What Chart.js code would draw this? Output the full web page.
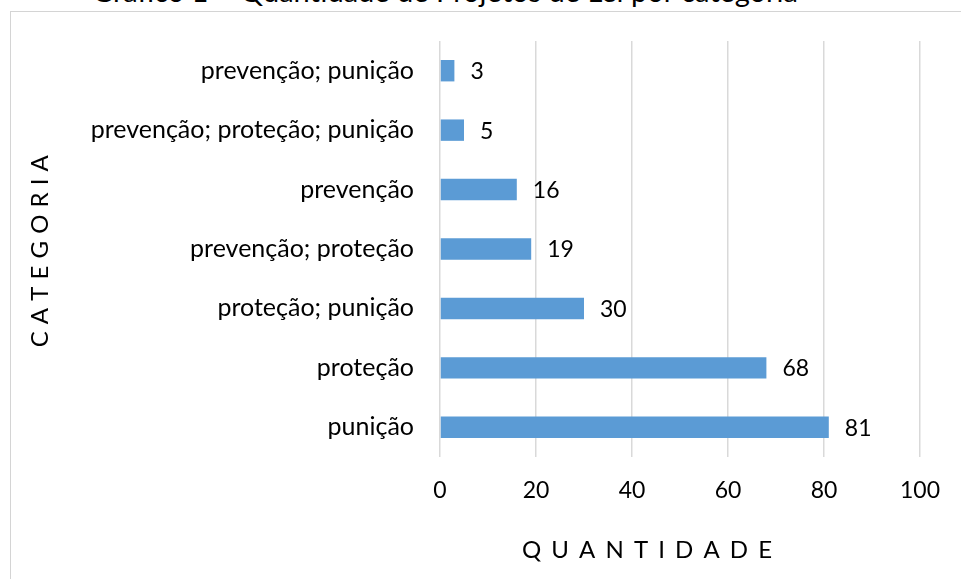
<!DOCTYPE html>
<html lang="pt">
<head>
<meta charset="UTF-8">
<title>Gráfico 1 – Quantidade de Projetos de Lei por categoria</title>
<script src="https://cdn.jsdelivr.net/npm/chart.js"></script>
<style>
  html, body { margin: 0; padding: 0; background: #fff; }
  body { width: 961px; height: 579px; position: relative; overflow: hidden; font-family: Lato, sans-serif; }
  .titulo { position: absolute; left: 0; width: 890px; top: -24px; text-align: center; font-size: 29px; line-height: 30px; color: #000; }
  .moldura { position: absolute; left: 10px; top: 11px; right: -5px; bottom: -5px; border-left: 1px solid #d4d4d4; border-top: 1px solid #d4d4d4; }
  canvas { position: absolute; left: 0; top: 0; }
</style>
</head>
<body>
<div class="titulo">Gráfico 1 – Quantidade de Projetos de Lei por categoria</div>
<div class="moldura"></div>
<canvas id="grafico" width="961" height="579"></canvas>
<script>
// dados do gráfico (de cima para baixo)
const categorias = ['prevenção; punição', 'prevenção; proteção; punição', 'prevenção', 'prevenção; proteção', 'proteção; punição', 'proteção', 'punição'];
const quantidades = [3, 5, 16, 19, 30, 68, 81];
const ticksX = [0, 20, 40, 60, 80, 100];

const fonte = { family: 'Lato, sans-serif', size: 23 };
const fonteCat = { family: 'Lato, sans-serif', size: 25 };

// rótulos de valor ao lado das barras
const rotulosPlugin = {
  id: 'rotulos',
  afterDatasetsDraw(chart) {
    const ctx = chart.ctx;
    const meta = chart.getDatasetMeta(0);
    ctx.save();
    ctx.font = fonte.size + 'px ' + fonte.family;
    ctx.fillStyle = '#000';
    ctx.textAlign = 'left';
    ctx.textBaseline = 'middle';
    meta.data.forEach((bar, i) => {
      ctx.fillText(String(quantidades[i]), bar.x + 16, bar.y + 1);
    });
    ctx.restore();
  }
};

// títulos dos eixos
const titulosEixos = {
  id: 'titulosEixos',
  afterDraw(chart) {
    const ctx = chart.ctx;
    const area = chart.chartArea;
    ctx.save();
    ctx.font = '24px ' + fonte.family;
    ctx.letterSpacing = '2px';
    ctx.fillStyle = '#000';
    ctx.textAlign = 'center';
    ctx.textBaseline = 'middle';
    ctx.fillText('Q U A N T I D A D E', (area.left + area.right) / 2 - 32, 550);
    ctx.letterSpacing = '0.5px';
    ctx.translate(40, (area.top + area.bottom) / 2 + 2);
    ctx.rotate(-Math.PI / 2);
    ctx.fillText('C A T E G O R I A', 0, 0);
    ctx.restore();
  }
};

new Chart(document.getElementById('grafico'), {
  type: 'bar',
  data: {
    labels: categorias,
    datasets: [{
      data: quantidades,
      backgroundColor: '#5b9bd5',
      borderWidth: 0,
      categoryPercentage: 1,
      barPercentage: 0.36
    }]
  },
  options: {
    indexAxis: 'y',
    responsive: false,
    animation: false,
    devicePixelRatio: 1,
    layout: { padding: { left: 0, top: 39, right: 41, bottom: 0 } },
    plugins: { legend: { display: false }, tooltip: { enabled: false } },
    scales: {
      x: {
        min: 0,
        max: 100,
        afterBuildTicks(scale) { scale.ticks = ticksX.map(v => ({ value: v })); },
        afterFit(scale) { scale.height = 122; },
        grid: { color: '#d9d9d9', lineWidth: 1.5, drawTicks: false },
        border: { display: false },
        ticks: { color: '#000', font: fonte, padding: 20, maxRotation: 0 }
      },
      y: {
        afterFit(scale) { scale.width = 440; },
        grid: { display: false, drawTicks: false },
        border: { display: false },
        ticks: { color: '#000', font: fonteCat, padding: 26 }
      }
    }
  },
  plugins: [rotulosPlugin, titulosEixos]
});
</script>
</body>
</html>
